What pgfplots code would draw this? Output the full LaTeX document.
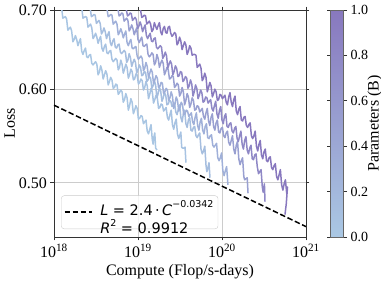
\documentclass[border=0pt]{standalone}
\usepackage{pgfplots}
\pgfplotsset{compat=1.18}
\usepackage{fontspec}
\setmainfont{Liberation Serif}
\newfontfamily\dejavu{DejaVu Sans}
\definecolor{cA}{RGB}{169,198,227}
\definecolor{cB}{RGB}{168,195,226}
\definecolor{cC}{RGB}{166,190,223}
\definecolor{cD}{RGB}{160,176,217}
\definecolor{cE}{RGB}{153,160,209}
\definecolor{cF}{RGB}{143,136,198}
\definecolor{cG}{RGB}{136,120,190}
\begin{document}
\begin{tikzpicture}
\path[use as bounding box] (-54pt,-49pt) rectangle (327pt,237pt);
\begin{axis}[
  scale only axis, width=252pt, height=227pt,
  xmin=18, xmax=21, ymode=log, ymin=0.45, ymax=0.70,
  xtick={18,19,20,21},
  xticklabels={10\textsuperscript{18},10\textsuperscript{19},10\textsuperscript{20},10\textsuperscript{21}},
  ytick={0.5,0.6,0.7}, yticklabels={0.50,0.60,0.70},
  minor tick num=0,
  grid=major, grid style={color=black!20, line width=0.8pt},
  tick align=outside, major tick length=3.5pt,
  tick style={line width=0.8pt, black!80},
  axis line style={line width=0.8pt, black!80},
  tick label style={font=\fontsize{16}{18}\selectfont},
  label style={font=\fontsize{16}{18}\selectfont},
  xlabel={Compute (Flop/s-days)}, ylabel={Loss},
  ylabel style={yshift=-3pt},
  colorbar,
  colormap={pm}{rgb255(0cm)=(170,200,228) rgb255(1cm)=(136,120,190)},
  point meta min=0, point meta max=1,
  colorbar style={
    at={(parent axis.north east)}, anchor=north west, xshift=16pt,
    scale only axis, width=13pt, height=227pt,
    ytick={0,0.2,0.4,0.6,0.8,1}, yticklabels={0.0,0.2,0.4,0.6,0.8,1.0},
    tick align=outside, major tick length=3.5pt,
    tick style={line width=0.8pt, black!80},
    axis line style={line width=0.8pt, black!60},
    yticklabel style={font=\fontsize{14}{16}\selectfont},
    ylabel={Parameters (B)},
    ylabel style={font=\fontsize{16}{18}\selectfont, at={(axis description cs:3.4,0.5)}, anchor=center, rotate=0},
  },
  legend style={at={(0.028,0.035)}, anchor=south west, draw=black!20,
    rounded corners=3pt, fill=white, fill opacity=0.8, text opacity=1,
    font=\dejavu\fontsize{14.5}{16.5}\selectfont, inner sep=2.5pt},
  legend image code/.code={\draw[#1] (0pt,0pt) -- (27pt,0pt); \path (33pt,0pt);},
  every axis plot/.append style={no markers, line width=1.5pt, line join=round},
]
\addplot[cA, forget plot] coordinates {
(18.06,0.712)(18.075,0.715)(18.09,0.704)(18.105,0.689)(18.12,0.690)(18.135,0.691)(18.15,0.688)(18.165,0.673)(18.18,0.675)(18.195,0.677)(18.21,0.672)(18.225,0.658)(18.24,0.661)(18.255,0.666)(18.27,0.661)(18.285,0.653)(18.30,0.658)(18.315,0.662)(18.33,0.646)(18.345,0.642)(18.36,0.647)(18.375,0.650)(18.39,0.639)(18.405,0.638)(18.42,0.641)(18.435,0.642)(18.45,0.631)(18.465,0.629)(18.48,0.631)(18.495,0.633)(18.51,0.630)(18.525,0.617)(18.54,0.620)(18.555,0.628)(18.57,0.623)(18.585,0.612)(18.60,0.617)(18.615,0.622)(18.63,0.618)(18.645,0.605)(18.66,0.609)(18.675,0.614)(18.69,0.611)(18.705,0.601)(18.72,0.602)(18.735,0.606)(18.75,0.605)(18.765,0.594)(18.78,0.596)(18.795,0.599)(18.81,0.597)(18.825,0.585)(18.84,0.588)(18.855,0.595)(18.87,0.590)(18.885,0.576)(18.90,0.581)(18.915,0.589)(18.93,0.585)(18.945,0.572)(18.96,0.576)(18.975,0.581)(18.99,0.578)(19.005,0.566)(19.02,0.567)(19.035,0.570)(19.05,0.569)(19.065,0.561)(19.08,0.563)(19.095,0.565)(19.11,0.553)(19.125,0.550)(19.14,0.555)(19.155,0.560)(19.17,0.544)(19.18,0.539)(19.19,0.547)(19.20,0.551)(19.21,0.535)(19.226,0.533)
};
\addplot[cB, forget plot] coordinates {
(18.30,0.710)(18.315,0.713)(18.33,0.703)(18.345,0.689)(18.36,0.690)(18.375,0.691)(18.39,0.690)(18.405,0.677)(18.42,0.679)(18.435,0.681)(18.45,0.676)(18.465,0.662)(18.48,0.665)(18.495,0.669)(18.51,0.664)(18.525,0.656)(18.54,0.661)(18.555,0.665)(18.57,0.650)(18.585,0.646)(18.60,0.652)(18.615,0.655)(18.63,0.644)(18.645,0.643)(18.66,0.646)(18.675,0.647)(18.69,0.636)(18.705,0.633)(18.72,0.635)(18.735,0.637)(18.75,0.635)(18.765,0.623)(18.78,0.626)(18.795,0.635)(18.81,0.630)(18.825,0.619)(18.84,0.624)(18.855,0.630)(18.87,0.626)(18.885,0.613)(18.90,0.617)(18.915,0.624)(18.93,0.621)(18.945,0.611)(18.96,0.612)(18.975,0.618)(18.99,0.617)(19.005,0.606)(19.02,0.608)(19.035,0.612)(19.05,0.610)(19.065,0.599)(19.08,0.602)(19.095,0.609)(19.11,0.604)(19.125,0.589)(19.14,0.594)(19.155,0.601)(19.17,0.597)(19.185,0.584)(19.20,0.588)(19.215,0.593)(19.23,0.590)(19.245,0.578)(19.26,0.579)(19.275,0.583)(19.29,0.582)(19.305,0.575)(19.32,0.577)(19.335,0.579)(19.35,0.568)(19.365,0.565)(19.38,0.571)(19.395,0.576)(19.41,0.560)(19.425,0.555)(19.44,0.562)(19.455,0.566)(19.47,0.550)(19.485,0.545)(19.50,0.549)(19.51,0.552)(19.52,0.536)(19.53,0.535)(19.545,0.535)(19.56,0.536)(19.571,0.520)
};
\addplot[cC, forget plot] coordinates {
(18.40,0.710)(18.415,0.713)(18.43,0.703)(18.445,0.691)(18.46,0.692)(18.475,0.694)(18.49,0.693)(18.505,0.682)(18.52,0.684)(18.535,0.686)(18.55,0.682)(18.565,0.668)(18.58,0.671)(18.595,0.676)(18.61,0.671)(18.625,0.662)(18.64,0.667)(18.655,0.671)(18.67,0.657)(18.685,0.653)(18.70,0.659)(18.715,0.662)(18.73,0.651)(18.745,0.650)(18.76,0.654)(18.775,0.655)(18.79,0.645)(18.805,0.643)(18.82,0.645)(18.835,0.647)(18.85,0.645)(18.865,0.632)(18.88,0.635)(18.895,0.643)(18.91,0.638)(18.925,0.627)(18.94,0.632)(18.955,0.636)(18.97,0.632)(18.985,0.619)(19.00,0.623)(19.015,0.629)(19.03,0.626)(19.045,0.616)(19.06,0.617)(19.075,0.621)(19.09,0.620)(19.105,0.609)(19.12,0.611)(19.135,0.615)(19.15,0.613)(19.165,0.601)(19.18,0.604)(19.195,0.610)(19.21,0.605)(19.225,0.590)(19.24,0.595)(19.255,0.602)(19.27,0.598)(19.285,0.586)(19.30,0.590)(19.315,0.596)(19.33,0.593)(19.345,0.582)(19.36,0.583)(19.375,0.587)(19.39,0.586)(19.405,0.580)(19.42,0.582)(19.435,0.584)(19.45,0.574)(19.465,0.571)(19.48,0.577)(19.495,0.582)(19.51,0.568)(19.525,0.563)(19.54,0.572)(19.555,0.576)(19.57,0.561)(19.585,0.557)(19.60,0.565)(19.615,0.568)(19.63,0.554)(19.645,0.553)(19.66,0.557)(19.675,0.558)(19.69,0.548)(19.705,0.546)(19.72,0.549)(19.735,0.551)(19.75,0.534)(19.765,0.529)(19.78,0.532)(19.795,0.537)(19.81,0.517)(19.82,0.511)(19.835,0.516)(19.845,0.520)(19.857,0.505)
};
\addplot[cD, forget plot] coordinates {
(18.60,0.708)(18.615,0.711)(18.63,0.702)(18.645,0.691)(18.66,0.692)(18.675,0.694)(18.69,0.693)(18.705,0.681)(18.72,0.683)(18.735,0.685)(18.75,0.681)(18.765,0.667)(18.78,0.670)(18.795,0.675)(18.81,0.670)(18.825,0.663)(18.84,0.668)(18.855,0.672)(18.87,0.657)(18.885,0.653)(18.90,0.658)(18.915,0.661)(18.93,0.650)(18.945,0.649)(18.96,0.651)(18.975,0.652)(18.99,0.640)(19.005,0.636)(19.02,0.638)(19.035,0.640)(19.05,0.637)(19.065,0.622)(19.08,0.625)(19.095,0.632)(19.11,0.627)(19.125,0.614)(19.14,0.619)(19.155,0.624)(19.17,0.620)(19.185,0.607)(19.20,0.611)(19.215,0.616)(19.23,0.613)(19.245,0.602)(19.26,0.603)(19.275,0.608)(19.29,0.607)(19.305,0.595)(19.32,0.597)(19.335,0.601)(19.35,0.599)(19.365,0.587)(19.38,0.590)(19.395,0.597)(19.41,0.592)(19.425,0.578)(19.44,0.583)(19.455,0.591)(19.47,0.587)(19.485,0.575)(19.50,0.579)(19.515,0.585)(19.53,0.582)(19.545,0.571)(19.56,0.572)(19.575,0.576)(19.59,0.575)(19.605,0.569)(19.62,0.571)(19.635,0.573)(19.65,0.563)(19.665,0.560)(19.68,0.568)(19.695,0.573)(19.71,0.559)(19.725,0.554)(19.74,0.563)(19.755,0.567)(19.77,0.554)(19.785,0.550)(19.80,0.558)(19.815,0.561)(19.83,0.546)(19.845,0.545)(19.86,0.548)(19.875,0.549)(19.89,0.538)(19.905,0.536)(19.92,0.538)(19.935,0.540)(19.95,0.525)(19.965,0.522)(19.98,0.525)(19.995,0.530)(20.01,0.512)(20.025,0.507)(20.04,0.512)(20.055,0.516)(20.071,0.498)
};
\addplot[cE, forget plot] coordinates {
(18.73,0.708)(18.745,0.711)(18.76,0.702)(18.775,0.692)(18.79,0.693)(18.805,0.696)(18.82,0.695)(18.835,0.685)(18.85,0.687)(18.865,0.689)(18.88,0.686)(18.895,0.672)(18.91,0.675)(18.925,0.680)(18.94,0.675)(18.955,0.667)(18.97,0.672)(18.985,0.676)(19.00,0.661)(19.015,0.657)(19.03,0.661)(19.045,0.664)(19.06,0.653)(19.075,0.652)(19.09,0.654)(19.105,0.655)(19.12,0.642)(19.135,0.639)(19.15,0.641)(19.165,0.644)(19.18,0.642)(19.195,0.629)(19.21,0.632)(19.225,0.642)(19.24,0.637)(19.255,0.626)(19.27,0.631)(19.285,0.635)(19.30,0.631)(19.315,0.617)(19.33,0.621)(19.345,0.626)(19.36,0.623)(19.375,0.612)(19.39,0.613)(19.405,0.616)(19.42,0.615)(19.435,0.602)(19.45,0.604)(19.465,0.607)(19.48,0.605)(19.495,0.592)(19.51,0.595)(19.525,0.602)(19.54,0.597)(19.555,0.582)(19.57,0.587)(19.585,0.595)(19.60,0.591)(19.615,0.579)(19.63,0.583)(19.645,0.590)(19.66,0.587)(19.675,0.576)(19.69,0.577)(19.705,0.581)(19.72,0.580)(19.735,0.574)(19.75,0.576)(19.765,0.578)(19.78,0.569)(19.795,0.566)(19.81,0.573)(19.825,0.578)(19.84,0.564)(19.855,0.559)(19.87,0.568)(19.885,0.572)(19.90,0.558)(19.915,0.554)(19.93,0.562)(19.945,0.565)(19.96,0.552)(19.975,0.551)(19.99,0.556)(20.005,0.557)(20.02,0.548)(20.035,0.546)(20.05,0.551)(20.065,0.553)(20.08,0.541)(20.095,0.538)(20.11,0.543)(20.125,0.548)(20.14,0.534)(20.155,0.529)(20.17,0.538)(20.185,0.542)(20.20,0.524)(20.215,0.518)(20.23,0.522)(20.245,0.525)(20.26,0.506)(20.27,0.503)(20.285,0.504)(20.30,0.505)(20.31,0.490)
};
\addplot[cF, forget plot] coordinates {
(18.83,0.707)(18.845,0.710)(18.86,0.701)(18.875,0.692)(18.89,0.693)(18.905,0.696)(18.92,0.695)(18.935,0.686)(18.95,0.688)(18.965,0.690)(18.98,0.687)(18.995,0.675)(19.01,0.678)(19.025,0.684)(19.04,0.679)(19.055,0.671)(19.07,0.676)(19.085,0.680)(19.10,0.666)(19.115,0.662)(19.13,0.666)(19.145,0.669)(19.16,0.659)(19.175,0.658)(19.19,0.662)(19.205,0.663)(19.22,0.651)(19.235,0.649)(19.25,0.651)(19.265,0.653)(19.28,0.651)(19.295,0.637)(19.31,0.640)(19.325,0.645)(19.34,0.640)(19.355,0.625)(19.37,0.630)(19.385,0.634)(19.40,0.630)(19.415,0.617)(19.43,0.621)(19.445,0.628)(19.46,0.625)(19.475,0.615)(19.49,0.616)(19.505,0.621)(19.52,0.620)(19.535,0.609)(19.55,0.611)(19.565,0.615)(19.58,0.613)(19.595,0.601)(19.61,0.604)(19.625,0.611)(19.64,0.606)(19.655,0.592)(19.67,0.597)(19.685,0.605)(19.70,0.601)(19.715,0.589)(19.73,0.593)(19.745,0.599)(19.76,0.596)(19.775,0.585)(19.79,0.586)(19.805,0.591)(19.82,0.590)(19.835,0.584)(19.85,0.586)(19.865,0.588)(19.88,0.578)(19.895,0.575)(19.91,0.581)(19.925,0.586)(19.94,0.572)(19.955,0.567)(19.97,0.576)(19.985,0.580)(20.00,0.565)(20.015,0.561)(20.03,0.569)(20.045,0.572)(20.06,0.558)(20.075,0.557)(20.09,0.561)(20.105,0.562)(20.12,0.553)(20.135,0.551)(20.15,0.556)(20.165,0.558)(20.18,0.545)(20.195,0.542)(20.21,0.548)(20.225,0.553)(20.24,0.539)(20.255,0.534)(20.27,0.543)(20.285,0.547)(20.30,0.533)(20.315,0.529)(20.33,0.535)(20.345,0.538)(20.36,0.524)(20.375,0.523)(20.39,0.528)(20.405,0.529)(20.42,0.516)(20.435,0.509)(20.45,0.511)(20.465,0.513)(20.48,0.496)(20.49,0.491)(20.495,0.494)(20.505,0.499)(20.512,0.482)
};
\addplot[cG, forget plot] coordinates {
(19.00,0.708)(19.015,0.711)(19.03,0.700)(19.045,0.690)(19.06,0.691)(19.075,0.693)(19.09,0.692)(19.105,0.681)(19.12,0.683)(19.135,0.685)(19.15,0.681)(19.165,0.671)(19.18,0.674)(19.195,0.683)(19.21,0.678)(19.225,0.674)(19.24,0.679)(19.255,0.683)(19.27,0.671)(19.285,0.667)(19.30,0.675)(19.315,0.678)(19.33,0.670)(19.345,0.669)(19.36,0.677)(19.375,0.678)(19.39,0.669)(19.405,0.665)(19.42,0.667)(19.435,0.670)(19.45,0.668)(19.465,0.654)(19.48,0.657)(19.495,0.664)(19.51,0.659)(19.525,0.648)(19.54,0.653)(19.555,0.658)(19.57,0.654)(19.585,0.642)(19.60,0.646)(19.615,0.653)(19.63,0.650)(19.645,0.641)(19.66,0.642)(19.675,0.642)(19.69,0.641)(19.705,0.626)(19.72,0.628)(19.735,0.630)(19.75,0.625)(19.765,0.610)(19.78,0.613)(19.795,0.619)(19.81,0.614)(19.825,0.597)(19.84,0.602)(19.855,0.608)(19.87,0.604)(19.885,0.591)(19.90,0.595)(19.915,0.600)(19.93,0.597)(19.945,0.587)(19.96,0.588)(19.975,0.594)(19.99,0.593)(20.005,0.589)(20.02,0.591)(20.035,0.593)(20.05,0.585)(20.065,0.582)(20.08,0.591)(20.095,0.596)(20.11,0.585)(20.125,0.580)(20.14,0.588)(20.155,0.592)(20.17,0.575)(20.185,0.571)(20.20,0.577)(20.215,0.580)(20.23,0.565)(20.245,0.564)(20.26,0.568)(20.275,0.569)(20.29,0.559)(20.305,0.557)(20.32,0.560)(20.335,0.562)(20.35,0.548)(20.365,0.545)(20.38,0.548)(20.395,0.553)(20.41,0.537)(20.425,0.532)(20.44,0.539)(20.455,0.543)(20.47,0.528)(20.485,0.524)(20.50,0.531)(20.515,0.534)(20.53,0.522)(20.545,0.521)(20.56,0.525)(20.575,0.526)(20.59,0.515)(20.605,0.513)(20.62,0.517)(20.635,0.519)(20.65,0.506)(20.665,0.503)(20.68,0.508)(20.695,0.513)(20.71,0.498)(20.725,0.493)(20.74,0.499)(20.755,0.503)(20.77,0.490)(20.78,0.496)(20.765,0.480)(20.75,0.470)
};
\addplot[black, line width=1.5pt, dash pattern=on 5.5pt off 2.6pt] coordinates {(18,0.5816) (21,0.4592)};
\addlegendentry{\begin{tabular}{@{}l@{}}\textit{L} = 2.4\,·\,\textit{C}\raisebox{0.55em}{\fontsize{9.5}{10}\selectfont −0.0342}\\[-1pt] \textit{R}\raisebox{0.5em}{\fontsize{9.5}{10}\selectfont 2} = 0.9912\end{tabular}}
\end{axis}
\end{tikzpicture}
\end{document}
